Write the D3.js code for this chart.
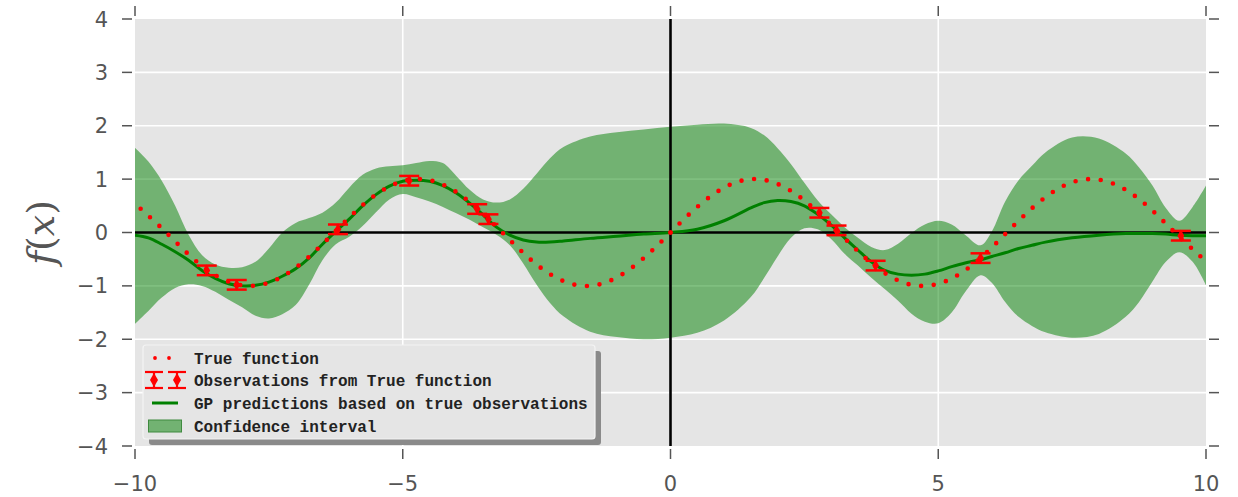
<!DOCTYPE html>
<html>
<head>
<meta charset="utf-8">
<script src="https://cdn.jsdelivr.net/npm/d3@7"></script>
<style>
  html, body { margin: 0; padding: 0; background: #ffffff; }
  svg { display: block; }
</style>
</head>
<body>
<svg id="chart" width="1238" height="497"></svg>
<script>
// Tick values
const xTicks = [-10, -5, 0, 5, 10];
const yTicks = [-4, -3, -2, -1, 0, 1, 2, 3, 4];

// True function, sampled every 0.5
const trueX = d3.range(-10, 10.001, 0.5);
const trueY = [0.54, 0.08, -0.41, -0.80, -0.99, -0.94, -0.66, -0.22, 0.28, 0.71,
               0.96, 0.98, 0.76, 0.35, -0.14, -0.60, -0.91, -1.00, -0.84, -0.48,
               0.00, 0.48, 0.84, 1.00, 0.91, 0.60, 0.14, -0.35, -0.76, -0.98,
               -0.96, -0.71, -0.28, 0.22, 0.66, 0.94, 0.99, 0.80, 0.41, -0.08, -0.54];

// Noisy observations with error bars
const obsX = [-8.66, -8.10, -6.21, -4.88, -3.61, -3.40, 2.78, 3.10, 3.83, 5.79, 9.53];
const obsY = [-0.71, -0.98, 0.06, 0.97, 0.44, 0.25, 0.37, 0.04, -0.62, -0.48, -0.06];
const obsErr = [0.09, 0.09, 0.09, 0.09, 0.09, 0.09, 0.09, 0.09, 0.09, 0.09, 0.09];

// GP posterior: mean and confidence bounds
const gpX = [-10, -9.75, -9.5, -9.25, -9, -8.75, -8.5, -8.25, -8, -7.75, -7.5, -7.25, -7,
             -6.75, -6.5, -6.25, -6, -5.75, -5.5, -5.25, -5, -4.75, -4.5, -4.25, -4,
             -3.75, -3.5, -3.25, -3, -2.75, -2.5, -2.25, -2, -1.5, -1, -0.5, 0, 0.5,
             1, 1.5, 1.75, 2, 2.25, 2.5, 2.75, 3, 3.25, 3.5, 3.75, 4, 4.25, 4.5, 4.75,
             5, 5.25, 5.5, 5.79, 6, 6.25, 6.5, 6.75, 7, 7.5, 8, 8.5, 8.75, 9, 9.25,
             9.5, 9.75, 10];
const gpMean = [-0.05, -0.10, -0.22, -0.36, -0.52, -0.71, -0.86, -0.96, -1.00, -0.99, -0.93, -0.82, -0.68,
                -0.48, -0.22, 0.02, 0.25, 0.50, 0.71, 0.87, 0.96, 0.98, 0.96, 0.88, 0.74,
                0.55, 0.33, 0.10, -0.05, -0.14, -0.18, -0.18, -0.16, -0.11, -0.07, -0.03, 0.00, 0.06,
                0.22, 0.46, 0.56, 0.60, 0.58, 0.50, 0.34, 0.14, -0.10, -0.33, -0.55, -0.71, -0.78, -0.80, -0.78,
                -0.72, -0.64, -0.57, -0.51, -0.45, -0.38, -0.30, -0.24, -0.18, -0.10, -0.05, -0.02, -0.02, -0.02, -0.03,
                -0.05, -0.06, -0.06];
const gpUpper = [1.59, 1.33, 0.97, 0.50, -0.04, -0.42, -0.60, -0.66, -0.65, -0.55, -0.30, 0.00, 0.18,
                 0.27, 0.37, 0.56, 0.84, 1.08, 1.20, 1.24, 1.26, 1.30, 1.34, 1.30, 1.06,
                 0.80, 0.62, 0.56, 0.62, 0.82, 1.10, 1.39, 1.60, 1.80, 1.88, 1.93, 1.98, 2.02,
                 2.04, 1.96, 1.82, 1.58, 1.28, 0.93, 0.60, 0.34, 0.10, -0.10, -0.27, -0.33, -0.21, -0.01, 0.15,
                 0.22, 0.15, -0.04, -0.24, 0.02, 0.58, 0.98, 1.25, 1.50, 1.78, 1.76, 1.48, 1.22, 0.88, 0.46,
                 0.22, 0.48, 0.88];
const gpLower = [-1.71, -1.47, -1.22, -1.04, -0.97, -1.00, -1.11, -1.26, -1.40, -1.56, -1.61, -1.53, -1.36,
                 -0.98, -0.52, -0.22, -0.08, 0.12, 0.38, 0.62, 0.72, 0.66, 0.58, 0.48, 0.36,
                 0.24, 0.10, -0.04, -0.24, -0.58, -0.98, -1.32, -1.57, -1.86, -1.96, -2.00, -1.97, -1.88,
                 -1.65, -1.21, -0.85, -0.45, -0.10, 0.08, 0.06, -0.12, -0.40, -0.62, -0.85, -1.06, -1.28, -1.52, -1.67,
                 -1.70, -1.50, -1.12, -0.80, -0.94, -1.30, -1.58, -1.75, -1.87, -1.97, -1.90, -1.58, -1.30, -0.92, -0.55,
                 -0.37, -0.55, -0.99];

const legendLabels = ["True function", "Observations from True function",
                      "GP predictions based on true observations", "Confidence interval"];

// ---- layout ----
const plot = { left: 135, right: 1206, top: 19, bottom: 446 };
const svg = d3.select("#chart");
const x = d3.scaleLinear().domain([-10, 10]).range([plot.left, plot.right]);
const y = d3.scaleLinear().domain([-4, 4]).range([plot.bottom, plot.top]);

const TICK_GRAY = "#555555";
const TICK_FONT = "DejaVu Sans, sans-serif";
const smooth = d3.curveCatmullRom.alpha(0.5);

// background panel
svg.append("rect")
  .attr("x", plot.left).attr("y", plot.top)
  .attr("width", plot.right - plot.left).attr("height", plot.bottom - plot.top)
  .attr("fill", "#e5e5e5");

// grid
const grid = svg.append("g").attr("stroke", "#ffffff").attr("stroke-width", 1.6);
grid.selectAll("line.gx").data(xTicks.slice(1, -1)).join("line")
  .attr("x1", d => x(d)).attr("x2", d => x(d))
  .attr("y1", plot.top).attr("y2", plot.bottom);
grid.selectAll("line.gy").data(yTicks.slice(1, -1)).join("line")
  .attr("x1", plot.left).attr("x2", plot.right)
  .attr("y1", d => y(d)).attr("y2", d => y(d));

// clip to the panel
svg.append("defs").append("clipPath").attr("id", "panel")
  .append("rect").attr("x", plot.left).attr("y", plot.top)
  .attr("width", plot.right - plot.left).attr("height", plot.bottom - plot.top);
const body = svg.append("g").attr("clip-path", "url(#panel)");

// confidence band
const gpRows = gpX.map((v, i) => ({ x: v, m: gpMean[i], lo: gpLower[i], hi: gpUpper[i] }));
body.append("path")
  .datum(gpRows)
  .attr("d", d3.area().curve(smooth)
    .x(d => x(d.x)).y0(d => y(d.lo)).y1(d => y(d.hi)))
  .attr("fill", "#008000").attr("fill-opacity", 0.5);

// zero lines
body.append("line")
  .attr("x1", plot.left).attr("x2", plot.right).attr("y1", y(0)).attr("y2", y(0))
  .attr("stroke", "#000").attr("stroke-width", 2.6);
body.append("line")
  .attr("x1", x(0)).attr("x2", x(0)).attr("y1", plot.top).attr("y2", plot.bottom)
  .attr("stroke", "#000").attr("stroke-width", 2.6);

// GP mean
body.append("path")
  .datum(gpRows)
  .attr("d", d3.line().curve(smooth).x(d => x(d.x)).y(d => y(d.m)))
  .attr("fill", "none").attr("stroke", "#008000").attr("stroke-width", 3);

// true function, dotted, dots laid out from x = 0 outward
const trueRows = trueX.map((v, i) => ({ x: v, y: trueY[i] }));
const trueLine = d3.line().curve(d3.curveNatural).x(d => x(d.x)).y(d => y(d.y));
const rightHalf = trueRows.filter(d => d.x >= 0);
const leftHalf = trueRows.filter(d => d.x <= 0).reverse();
[rightHalf, leftHalf].forEach(part => {
  body.append("path")
    .datum(part)
    .attr("d", trueLine)
    .attr("fill", "none").attr("stroke", "#ff0000").attr("stroke-width", 4.6)
    .attr("stroke-linecap", "round").attr("stroke-dasharray", "0 12.7");
});

// observations with error bars
const obsRows = obsX.map((v, i) => ({ x: v, y: obsY[i], e: obsErr[i] }));
const CAP = 10;
const obs = body.append("g").selectAll("g").data(obsRows).join("g");
obs.append("line")
  .attr("x1", d => x(d.x)).attr("x2", d => x(d.x))
  .attr("y1", d => y(d.y - d.e)).attr("y2", d => y(d.y + d.e))
  .attr("stroke", "#ff0000").attr("stroke-width", 2.5);
obs.selectAll("line.cap").data(d => [{ x: d.x, v: d.y - d.e }, { x: d.x, v: d.y + d.e }]).join("line")
  .attr("x1", d => x(d.x) - CAP).attr("x2", d => x(d.x) + CAP)
  .attr("y1", d => y(d.v)).attr("y2", d => y(d.v))
  .attr("stroke", "#ff0000").attr("stroke-width", 2.5);
obs.append("path")
  .attr("transform", d => `translate(${x(d.x)},${y(d.y)})`)
  .attr("d", d3.symbol(d3.symbolDiamond, 40))
  .attr("fill", "#ff0000");

// ticks (outward, slightly detached from the panel)
const ticks = svg.append("g").attr("stroke", TICK_GRAY).attr("stroke-width", 1.5);
yTicks.forEach(v => {
  ticks.append("line").attr("x1", plot.left - 13).attr("x2", plot.left - 3)
    .attr("y1", y(v)).attr("y2", y(v));
  ticks.append("line").attr("x1", plot.right + 3).attr("x2", plot.right + 13)
    .attr("y1", y(v)).attr("y2", y(v));
});
xTicks.forEach(v => {
  ticks.append("line").attr("x1", x(v)).attr("x2", x(v))
    .attr("y1", plot.top - 13).attr("y2", plot.top - 3);
  ticks.append("line").attr("x1", x(v)).attr("x2", x(v))
    .attr("y1", plot.bottom + 3).attr("y2", plot.bottom + 13);
});

const fmt = v => (v < 0 ? "\u2212" + Math.abs(v) : String(v));
svg.append("g").selectAll("text").data(yTicks).join("text")
  .attr("x", 108).attr("y", d => y(d)).attr("dy", "0.36em")
  .attr("text-anchor", "end")
  .attr("font-family", TICK_FONT).attr("font-size", 21).attr("fill", TICK_GRAY)
  .text(fmt);
svg.append("g").selectAll("text").data(xTicks).join("text")
  .attr("x", d => x(d)).attr("y", 491)
  .attr("text-anchor", "middle")
  .attr("font-family", TICK_FONT).attr("font-size", 21).attr("fill", TICK_GRAY)
  .text(fmt);

// y-axis label f(x)
const ylab = svg.append("text")
  .attr("transform", `translate(54, ${y(0)}) rotate(-90)`)
  .attr("text-anchor", "middle")
  .attr("font-family", "DejaVu Serif, serif").attr("font-size", 38).attr("fill", TICK_GRAY);
ylab.append("tspan").attr("font-style", "italic").text("f");
ylab.append("tspan").text("(");
ylab.append("tspan").attr("font-style", "italic").text("x");
ylab.append("tspan").text(")");

// legend
const lg = { x: 143, y: 345, w: 452, h: 94 };
const legend = svg.append("g");
legend.append("rect")
  .attr("x", lg.x + 6).attr("y", lg.y + 6).attr("width", lg.w).attr("height", lg.h)
  .attr("rx", 3).attr("fill", "#8a8a8a");
legend.append("rect")
  .attr("x", lg.x).attr("y", lg.y).attr("width", lg.w).attr("height", lg.h)
  .attr("rx", 3).attr("fill", "#e5e5e5").attr("stroke", "#f4f4f4").attr("stroke-width", 1.2);

const rowY = [358, 380, 403, 426];
legend.selectAll("text").data(legendLabels).join("text")
  .attr("x", 194).attr("y", (d, i) => rowY[i]).attr("dy", "0.35em")
  .attr("font-family", "Liberation Mono, Courier New, monospace")
  .attr("font-weight", "bold").attr("font-size", 16).attr("fill", "#222222")
  .text(d => d);

// legend handle: dotted true function
[155, 169].forEach(cx => {
  legend.append("circle").attr("cx", cx).attr("cy", rowY[0]).attr("r", 1.9).attr("fill", "#ff0000");
});
// legend handle: error bar markers
[154, 177].forEach(cx => {
  const g = legend.append("g").attr("stroke", "#ff0000").attr("stroke-width", 2.2);
  g.append("line").attr("x1", cx).attr("x2", cx).attr("y1", rowY[1] - 8).attr("y2", rowY[1] + 8);
  g.append("line").attr("x1", cx - 9).attr("x2", cx + 9).attr("y1", rowY[1] - 8).attr("y2", rowY[1] - 8);
  g.append("line").attr("x1", cx - 9).attr("x2", cx + 9).attr("y1", rowY[1] + 8).attr("y2", rowY[1] + 8);
  legend.append("path").attr("transform", `translate(${cx},${rowY[1]})`)
    .attr("d", d3.symbol(d3.symbolDiamond, 55)).attr("fill", "#ff0000");
});
// legend handle: GP mean line
legend.append("line").attr("x1", 152).attr("x2", 178).attr("y1", rowY[2]).attr("y2", rowY[2])
  .attr("stroke", "#008000").attr("stroke-width", 3);
// legend handle: confidence patch
legend.append("rect").attr("x", 148.5).attr("y", rowY[3] - 6).attr("width", 33).attr("height", 12)
  .attr("fill", "#72b272").attr("stroke", "#3f8a3f").attr("stroke-width", 1);
</script>
</body>
</html>
